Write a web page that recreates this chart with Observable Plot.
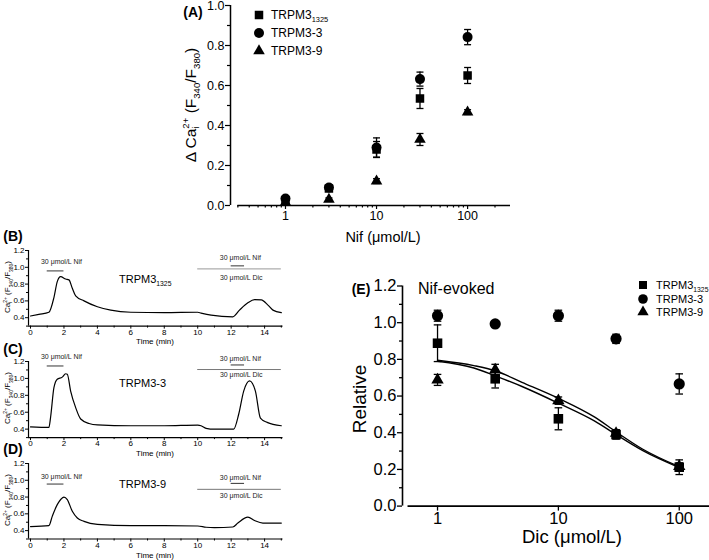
<!DOCTYPE html>
<html><head><meta charset="utf-8">
<script src="https://cdn.jsdelivr.net/npm/d3@7"></script>
<script src="https://cdn.jsdelivr.net/npm/@observablehq/plot@0.6"></script>
<style>
html,body{margin:0;padding:0;background:#fff;}
#wrap{position:relative;width:709px;height:560px;overflow:hidden;background:#fff;font-family:"Liberation Sans",Arial,Helvetica,sans-serif;color:#000;}
#wrap > svg{position:absolute;margin:0;}
.t{position:absolute;white-space:nowrap;line-height:1;}
.t sub,.t sup{font-size:62%;line-height:0;}
.stk{display:inline-block;font-size:62%;line-height:1.0;vertical-align:-0.35em;}
</style></head><body><div id="wrap"></div>
<script>
const FONT = '"Liberation Sans", Arial, Helvetica, sans-serif';

// ---------- Panel A: Nif dose response ----------
const nifConc = [1, 3, 10, 30, 100];
const nif_1325 = [0.025, 0.085, 0.28, 0.535, 0.65];
const nif_1325_err = [0.008, 0.01, 0.04, 0.05, 0.04];
const nif_3 = [0.035, 0.09, 0.29, 0.632, 0.842];
const nif_3_err = [0.008, 0.01, 0.048, 0.035, 0.038];
const nif_9 = [0.015, 0.03, 0.122, 0.33, 0.467];
const nif_9_err = [0.005, 0.008, 0.012, 0.03, 0.012];
const nifXTicks = [1, 10, 100];
const nifXMinor = [0.3,0.4,0.5,0.6,0.7,0.8,0.9,2,3,4,5,6,7,8,9,20,30,40,50,60,70,80,90,200];
const nifYTicks = [0, 0.2, 0.4, 0.6, 0.8, 1.0];
const nifYMinor = [0.1, 0.3, 0.5, 0.7, 0.9];

// ---------- Panel E: Dic inhibition ----------
const dicConc = [1, 3, 10, 30, 100];
const dic_1325 = [0.888, 0.694, 0.476, 0.39, 0.212];
const dic_1325_err = [0.1, 0.05, 0.06, 0.025, 0.04];
const dic_3 = [1.038, 0.993, 1.038, 0.912, 0.666];
const dic_3_err = [0.03, 0.01, 0.03, 0.025, 0.055];
const dic_9 = [0.688, 0.743, 0.575, 0.397, 0.216];
const dic_9_err = [0.03, 0.03, 0.02, 0.02, 0.02];
const fitConc = [1, 2, 3, 5, 10, 20, 30, 50, 100];
const fit_9 = [0.795, 0.766, 0.738, 0.675, 0.588, 0.485, 0.405, 0.31, 0.215];
const fit_1325 = [0.79, 0.753, 0.71, 0.652, 0.561, 0.463, 0.39, 0.302, 0.21];
const dicXTicks = [1, 10, 100];
const dicYTicks = [0, 0.2, 0.4, 0.6, 0.8, 1.0, 1.2];
const dicYMinor = [0.1, 0.3, 0.5, 0.7, 0.9, 1.1];

// ---------- Panels B-D: Ca2+ traces ----------
const traceB_time  = [0, 0.5, 1.1, 1.4, 1.6, 1.8, 2.1, 2.3, 2.5, 2.7, 3.2, 4.0, 4.8, 6, 8, 10, 10.2, 10.8, 12.1, 12.5, 13, 13.4, 13.8, 14.2, 14.5, 15];
const traceB_ratio = [0.42, 0.44, 0.465, 0.64, 0.83, 0.89, 0.86, 0.85, 0.75, 0.66, 0.60, 0.53, 0.49, 0.465, 0.46, 0.465, 0.455, 0.43, 0.41, 0.49, 0.577, 0.615, 0.612, 0.55, 0.49, 0.46];
const traceC_time  = [0, 1.1, 1.2, 1.4, 1.6, 1.9, 2.1, 2.2, 2.4, 2.7, 3.0, 3.5, 4, 6, 8, 10, 10.2, 10.5, 11, 12.15, 12.45, 12.75, 13.1, 13.45, 13.75, 14.15, 15];
const traceC_ratio = [0.427, 0.42, 0.54, 0.89, 0.99, 1.015, 1.055, 1.05, 0.85, 0.655, 0.52, 0.467, 0.45, 0.44, 0.44, 0.447, 0.44, 0.41, 0.40, 0.40, 0.576, 0.85, 0.97, 0.85, 0.53, 0.48, 0.44];
const traceD_time  = [0, 1.1, 1.3, 1.6, 1.9, 2.0, 2.2, 2.5, 2.8, 3.2, 4, 6, 8, 10, 10.5, 11, 12.1, 12.4, 13.0, 13.4, 13.9, 15];
const traceD_ratio = [0.448, 0.46, 0.57, 0.71, 0.79, 0.80, 0.77, 0.63, 0.55, 0.51, 0.475, 0.46, 0.46, 0.455, 0.44, 0.435, 0.443, 0.49, 0.56, 0.52, 0.49, 0.49];
const traceXTicks = [0, 2, 4, 6, 8, 10, 12, 14];
const traceXMinor = [1, 3, 5, 7, 9, 11, 13, 15];
const traceYTicks = [0.4, 0.6, 0.8, 1.0, 1.2];
const traceYMinor = [0.3, 0.5, 0.7, 0.9, 1.1];
const nifApp1 = [1, 2];
const nifApp2 = [12, 12.8];
const dicApp = [10, 15];

// ---------- helpers ----------
const W = document.getElementById("wrap");
const capSym = {draw(ctx, size){ const w = Math.sqrt(size / Math.PI); ctx.moveTo(-w, 0); ctx.lineTo(w, 0); }};
const rows = (xs, ys, es) => xs.map((x, i) => ({x, y: ys[i], e: es ? es[i] : 0}));
function pointMarks(data, symbol, r, capR) {
  return [
    Plot.ruleX(data, {x: "x", y1: d => d.y - d.e, y2: d => d.y + d.e, stroke: "black", strokeWidth: 1.3}),
    Plot.dot(data, {x: "x", y: d => d.y + d.e, symbol: capSym, r: capR, stroke: "black", fill: "none", strokeWidth: 1.3}),
    Plot.dot(data, {x: "x", y: d => d.y - d.e, symbol: capSym, r: capR, stroke: "black", fill: "none", strokeWidth: 1.3}),
    Plot.dot(data, {x: "x", y: "y", symbol, r, fill: "black", stroke: "none"})
  ];
}
function place(node, left, top) { node.style.position = "absolute"; node.style.left = left + "px"; node.style.top = top + "px"; W.appendChild(node); }
function label(html, x, y, size, opts = {}) {
  const d = document.createElement("div");
  d.className = "t"; d.innerHTML = html;
  d.style.fontSize = size + "px";
  if (opts.bold) d.style.fontWeight = "bold";
  const tr = opts.anchor === "start" ? "translate(0,-50%)" : "translate(-50%,-50%)";
  d.style.transform = tr + (opts.rotate ? " rotate(-90deg)" : "");
  d.style.left = x + "px"; d.style.top = y + "px";
  W.appendChild(d);
}
function legendSym(type, r, cx, cy) {
  const svg = d3.create("svg").attr("width", 20).attr("height", 20)
    .style("position", "absolute").style("left", (cx - 10) + "px").style("top", (cy - 10) + "px").style("overflow", "visible");
  svg.append("path").attr("transform", "translate(10,10)").attr("d", d3.symbol(type, Math.PI * r * r)()).attr("fill", "black");
  W.appendChild(svg.node());
}

// ---------- Panel A ----------
const plotA = Plot.plot({
  width: 530, height: 258,
  marginLeft: 230, marginRight: 20, marginTop: 5, marginBottom: 53,
  x: {type: "log", domain: [0.249, 296]},
  y: {domain: [0, 1]},
  style: {fontFamily: FONT, background: "transparent", overflow: "visible", color: "black"},
  marks: [
    Plot.axisY({ticks: nifYTicks, tickSize: 5, tickPadding: 1, tickFormat: d3.format(".1f"), fontSize: 12.5, label: null, strokeWidth: 1.2}),
    Plot.axisY({ticks: nifYMinor, tickSize: 3, tickFormat: () => "", label: null, strokeWidth: 1.2}),
    Plot.axisX({ticks: nifXTicks, tickSize: 4, tickPadding: 2, tickFormat: d => String(d), fontSize: 12.5, label: null, strokeWidth: 1.2}),
    Plot.axisX({ticks: nifXMinor, tickSize: 2.5, tickFormat: () => "", label: null, strokeWidth: 1.2}),
    Plot.ruleY([0], {x1: 0.3, x2: 296, strokeWidth: 1.5}),
    Plot.ruleX([0.249], {y1: 0, y2: 1, strokeWidth: 1.5}),
    ...pointMarks(rows(nifConc, nif_1325, nif_1325_err), "square", 4.8, 3.5),
    ...pointMarks(rows(nifConc, nif_9, nif_9_err), "triangle", 4.3, 3.5),
    ...pointMarks(rows(nifConc, nif_3, nif_3_err), "circle", 5, 3.5)
  ]
});
place(plotA, 0, 0);

// ---------- Panel E ----------
const plotE = Plot.plot({
  width: 369, height: 290,
  marginLeft: 62, marginRight: 0, marginTop: 15.5, marginBottom: 54.4,
  x: {type: "log", domain: [0.513, 178]},
  y: {domain: [0, 1.2]},
  style: {fontFamily: FONT, background: "transparent", overflow: "visible", color: "black"},
  marks: [
    Plot.axisY({ticks: dicYTicks, tickSize: 5, tickPadding: 1, tickFormat: d3.format(".1f"), fontSize: 16.5, label: null, strokeWidth: 1.3}),
    Plot.axisY({ticks: dicYMinor, tickSize: 3, tickFormat: () => "", label: null, strokeWidth: 1.3}),
    Plot.axisX({ticks: dicXTicks, tickSize: 5, tickPadding: 1.5, tickFormat: d => String(d), fontSize: 16.5, label: null, strokeWidth: 1.3}),
    Plot.ruleY([0], {x1: 0.57, x2: 178, strokeWidth: 1.6}),
    Plot.ruleX([0.513], {y1: 0, y2: 1.2, strokeWidth: 1.6}),
    Plot.line(rows(fitConc, fit_9), {x: "x", y: "y", stroke: "black", strokeWidth: 1.4, curve: "monotone-x"}),
    Plot.line(rows(fitConc, fit_1325), {x: "x", y: "y", stroke: "black", strokeWidth: 1.4, curve: "monotone-x"}),
    ...pointMarks(rows(dicConc, dic_3, dic_3_err), "circle", 5.6, 3.8),
    ...pointMarks(rows(dicConc, dic_9, dic_9_err), "triangle", 4.6, 3.8),
    ...pointMarks(rows(dicConc, dic_1325, dic_1325_err), "square", 5.4, 3.8)
  ]
});
place(plotE, 340, 270);

// ---------- Trace panels ----------
function trace(cfg) {
  const data = rows(cfg.t, cfg.v);
  const mt = 18, mb = 14;
  const h = (cfg.bottom - cfg.top) + mt + mb;
  const p = Plot.plot({
    width: 290, height: h,
    marginLeft: 28, marginRight: 7.5, marginTop: mt, marginBottom: mb,
    x: {domain: [-0.12, 15.1]},
    y: {domain: [0.3, 1.2]},
    style: {fontFamily: FONT, background: "transparent", overflow: "visible", color: "black"},
    marks: [
      Plot.axisY({ticks: traceYTicks, tickSize: 3, tickPadding: 1, tickFormat: d3.format(".1f"), fontSize: 8, label: null}),
      Plot.axisY({ticks: traceYMinor, tickSize: 2, tickFormat: () => "", label: null}),
      Plot.axisX({ticks: traceXTicks, tickSize: 3, tickPadding: 0, tickFormat: d => String(d), fontSize: 8, label: null}),
      Plot.axisX({ticks: traceXMinor, tickSize: 2, tickFormat: () => "", label: null}),
      Plot.ruleY([0.3], {x1: -0.12, x2: 15.1, strokeWidth: 1.2}),
      Plot.ruleX([-0.12], {y1: 0.3, y2: 1.2, strokeWidth: 1.2}),
      Plot.line(data, {x: "x", y: "y", stroke: "black", strokeWidth: 1.2, curve: "monotone-x"}),
      Plot.ruleY([cfg.leftBar], {x1: nifApp1[0], x2: nifApp1[1], stroke: "#333", strokeWidth: 1}),
      Plot.text(["30 μmol/L Nif"], {x: 1.85, y: cfg.leftText, fontSize: 7, fill: "#222"}),
      Plot.ruleY([cfg.grayLine], {x1: dicApp[0], x2: dicApp[1], stroke: cfg.grayColor, strokeWidth: 1}),
      Plot.ruleY([cfg.shortBar], {x1: nifApp2[0], x2: nifApp2[1], stroke: "#333", strokeWidth: 1}),
      Plot.text(["30 μmol/L Nif"], {x: 12.55, y: cfg.rightText, fontSize: 7, fill: "#222"}),
      Plot.text(["30 μmol/L Dic"], {x: 12.6, y: cfg.dicText, fontSize: 7, fill: "#222"})
    ]
  });
  place(p, 0, cfg.top - mt);
}
trace({t: traceB_time, v: traceB_ratio, top: 249.5, bottom: 325.1,
  leftText: 1.064, leftBar: 0.957, rightText: 1.116, shortBar: 1.017, grayLine: 0.981, dicText: 0.879, grayColor: "#999"});
trace({t: traceC_time, v: traceC_ratio, top: 360.5, bottom: 436.6,
  leftText: 1.253, leftBar: 1.147, rightText: 1.235, shortBar: 1.159, grayLine: 1.105, dicText: 1.046, grayColor: "#777"});
trace({t: traceD_time, v: traceD_ratio, top: 463.3, bottom: 538.8,
  leftText: 1.041, leftBar: 0.955, rightText: 1.034, shortBar: 0.963, grayLine: 0.892, dicText: 0.816, grayColor: "#777"});

// ---------- Text ----------
const caLabel = 'Ca<span class="stk">2+<br>i</span> (F<sub>340</sub>/F<sub>380</sub>)';
label("(A)", 193, 12, 14, {bold: true});
label('Δ ' + caLabel, 191, 105, 15.5, {rotate: true});
label("Nif (μmol/L)", 383, 237, 14.5);
legendSym(d3.symbolSquare, 4.8, 259, 15);
legendSym(d3.symbolCircle, 5, 259, 33);
legendSym(d3.symbolTriangle, 4.3, 259, 51);
label("TRPM3<sub>1325</sub>", 271, 15, 12, {anchor: "start"});
label("TRPM3-3", 271, 33, 12, {anchor: "start"});
label("TRPM3-9", 271, 51, 12, {anchor: "start"});

label("(B)", 13, 236, 14, {bold: true});
label("(C)", 13, 349, 14, {bold: true});
label("(D)", 13, 449, 14, {bold: true});
label(caLabel, 9, 287, 8, {rotate: true});
label(caLabel, 9, 398, 8, {rotate: true});
label(caLabel, 9, 500, 8, {rotate: true});
label("Time (min)", 155, 341.5, 8);
label("Time (min)", 155, 453.5, 8);
label("Time (min)", 155, 555.5, 8);
label("TRPM3<sub>1325</sub>", 119, 279, 11, {anchor: "start"});
label("TRPM3-3", 119, 383, 11, {anchor: "start"});
label("TRPM3-9", 119, 484, 11, {anchor: "start"});

label("(E)", 361, 289, 14, {bold: true});
label("Nif-evoked", 418, 289, 16, {anchor: "start"});
label("Relative", 359, 399, 19, {rotate: true});
label("Dic (μmol/L)", 572, 537, 18.5);
legendSym(d3.symbolSquare, 4.5, 643, 285);
legendSym(d3.symbolCircle, 4.8, 643, 298.5);
legendSym(d3.symbolTriangle, 4.2, 643, 312);
label("TRPM3<sub>1325</sub>", 656, 285, 11, {anchor: "start"});
label("TRPM3-3", 656, 298.5, 11, {anchor: "start"});
label("TRPM3-9", 656, 312, 11, {anchor: "start"});
</script></body></html>
